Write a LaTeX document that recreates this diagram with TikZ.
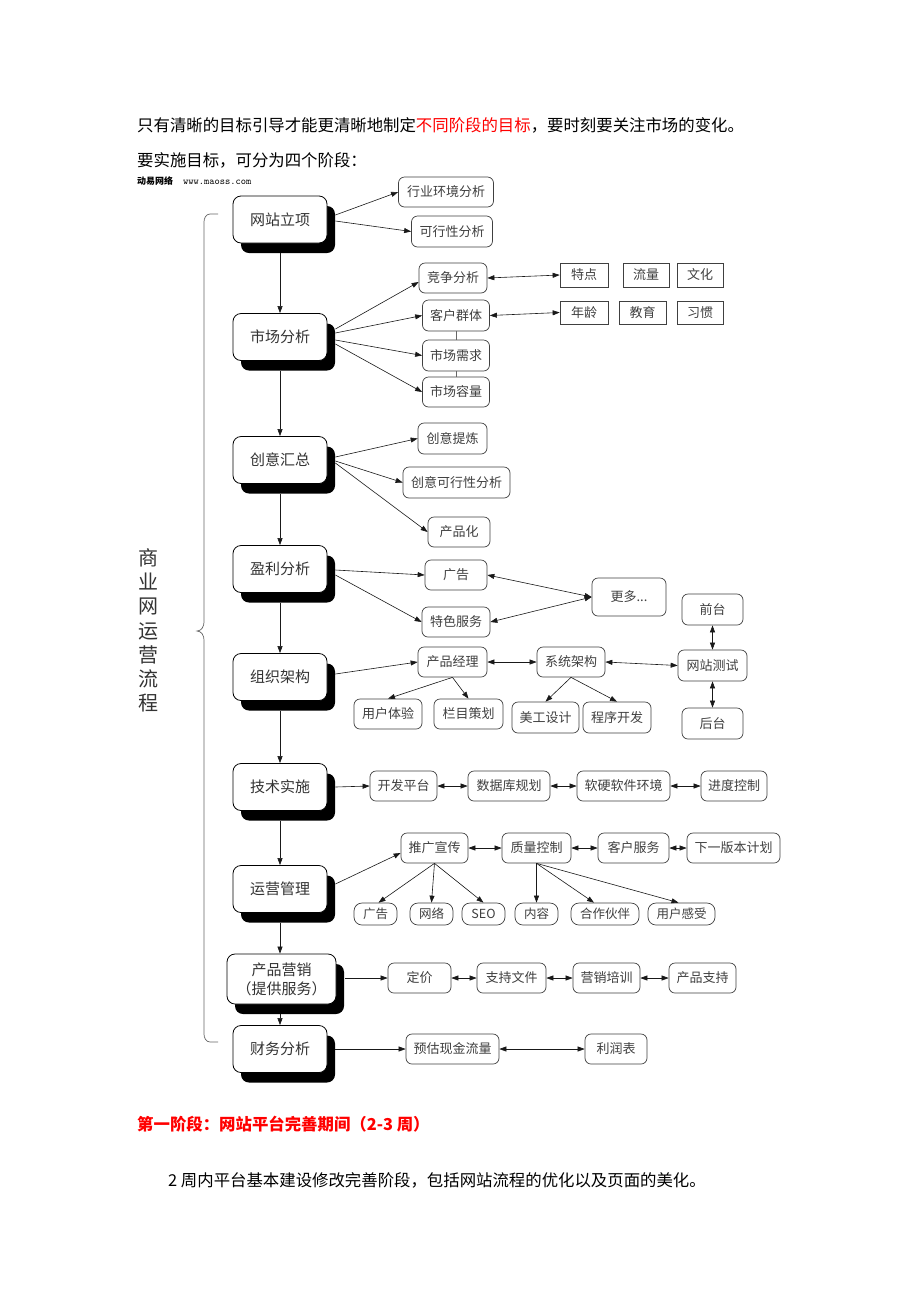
\documentclass[tikz,border=0pt]{standalone}
\usepackage{fontspec}
\setmainfont{Noto Sans CJK SC}
\usetikzlibrary{arrows.meta,shadows,calc}
\begin{document}
\begin{tikzpicture}[x=1pt,y=-1pt,
  mainbox/.style={draw=black, line width=0.8pt, rounded corners=8pt, fill=white, minimum width=94pt, minimum height=47pt, inner sep=0pt, text=black!80, font=\fontsize{15}{18}\selectfont, drop shadow={shadow xshift=8pt, shadow yshift=-10pt, fill=black, opacity=1}},
  sub/.style={draw=black!75, line width=0.7pt, rounded corners=6pt, fill=white, inner sep=0pt, minimum height=30pt, text=black!75, font=\fontsize{13}{15}\selectfont},
  sq/.style={draw=black!75, line width=0.7pt, inner sep=0pt, fill=white, text=black!75, font=\fontsize{13}{15}\selectfont, minimum width=47pt, minimum height=24pt},
  small/.style={sub, rounded corners=8pt, minimum height=22pt, font=\fontsize{12.5}{14}\selectfont},
  arr/.style={-{Triangle[length=7pt,width=5pt]}, line width=0.6pt, draw=black!90},
  darr/.style={{Triangle[length=7pt,width=5pt]}-{Triangle[length=7pt,width=5pt]}, line width=0.6pt, draw=black!90},
  plain/.style={line width=0.6pt, draw=black!60},
  bracestyle/.style={line width=0.7pt, draw=black!60},
  bodytext/.style={anchor=west, inner sep=0pt, font=\fontsize{16.4}{20}\selectfont}
]
\fill[white] (0,0) rectangle (920,1302);
\useasboundingbox (0,0) rectangle (920,1302);

% top text
\node[bodytext] (t1) at (137,125) {只有清晰的目标引导才能更清晰地制定{\color{red}不同阶段的目标}，要时刻要关注市场的变化。};
\node[bodytext] (t2) at (137,160) {要实施目标，可分为四个阶段：};
\node[anchor=west, inner sep=0pt] (wm) at (137,181) {{\fontsize{9}{10}\selectfont\bfseries 动易网络}\hspace{10pt}{\ttfamily\fontsize{10}{11}\selectfont www.maoss.com}};

% main column
\node[mainbox] (m1) at (280,219.5) {网站立项};
\node[mainbox] (m2) at (280,337) {市场分析};
\node[mainbox] (m3) at (280,460) {创意汇总};
\node[mainbox] (m4) at (280,569) {盈利分析};
\node[mainbox] (m5) at (280,677) {组织架构};
\node[mainbox] (m6) at (280,787) {技术实施};
\node[mainbox] (m7) at (280,889) {运营管理};
\node[mainbox, minimum width=109pt, minimum height=50pt, align=center, font=\fontsize{15}{19}\selectfont] (m8) at (281.5,979) {产品营销\\（提供服务）};
\node[mainbox] (m9) at (280,1049) {财务分析};

% brace and vertical title
\draw[bracestyle] (218,214) -- (210,214) to[out=180,in=90] (204,222) -- (204,622) to[out=270,in=0] (197,631) to[out=0,in=90] (204,640) -- (204,1034) to[out=270,in=180] (210,1042) -- (218,1042);
\node[align=center, inner sep=0pt, text=black!80, font=\fontsize{20}{24.2}\selectfont] (title) at (148,630.5) {商\\业\\网\\运\\营\\流\\程};

% level 1
\node[sub, minimum width=95pt] (a1) at (446,192) {行业环境分析};
\node[sub, minimum width=81pt, minimum height=31pt] (a2) at (452,231.5) {可行性分析};

% level 2
\node[sub, minimum width=68pt] (b1) at (453,278) {竞争分析};
\node[sub, minimum width=67pt, minimum height=31pt] (b2) at (456,315.5) {客户群体};
\node[sub, minimum width=67pt, minimum height=31pt] (b3) at (456,355.5) {市场需求};
\node[sub, minimum width=67pt] (b4) at (456,392) {市场容量};
\node[sq, minimum width=48pt] (r1) at (584,275) {特点};
\node[sq, minimum width=46pt] (r2) at (646,275) {流量};
\node[sq, minimum width=46pt] (r3) at (700,275) {文化};
\node[sq, minimum width=48pt, minimum height=23pt] (r4) at (584,312.5) {年龄};
\node[sq, minimum width=47pt, minimum height=23pt] (r5) at (642.5,312.5) {教育};
\node[sq, minimum width=46pt, minimum height=23pt] (r6) at (700,312.5) {习惯};

% level 3
\node[sub, minimum width=69pt, minimum height=31pt] (c1) at (452.5,438.5) {创意提炼};
\node[sub, minimum width=107pt, minimum height=31pt] (c2) at (456.5,482.5) {创意可行性分析};
\node[sub, minimum width=62pt] (c3) at (459,532) {产品化};

% level 4
\node[sub, minimum width=62pt] (d1) at (456,575) {广告};
\node[sub, minimum width=68pt] (d2) at (456,622) {特色服务};
\node[sub, minimum width=74pt, minimum height=38pt] (d3) at (629,597) {更多...};

% level 5
\node[sub, minimum width=61pt, minimum height=31pt] (e1) at (712.5,609.5) {前台};
\node[sub, minimum width=69pt] (e2) at (452.5,662) {产品经理};
\node[sub, minimum width=68pt] (e3) at (571,662) {系统架构};
\node[sub, minimum width=69pt, minimum height=31pt] (e4) at (712.5,665.5) {网站测试};
\node[sub, minimum width=68pt] (e5) at (388,714) {用户体验};
\node[sub, minimum width=69pt] (e6) at (468.5,714) {栏目策划};
\node[sub, minimum width=67pt, minimum height=31pt] (e7) at (545.5,717.5) {美工设计};
\node[sub, minimum width=68pt, minimum height=31pt] (e8) at (617,717.5) {程序开发};
\node[sub, minimum width=61pt, minimum height=31pt] (e9) at (712.5,723.5) {后台};

% level 6
\node[sub, minimum width=67pt] (f1) at (403.5,786) {开发平台};
\node[sub, minimum width=82pt] (f2) at (509,786) {数据库规划};
\node[sub, minimum width=93pt] (f3) at (623.5,786) {软硬软件环境};
\node[sub, minimum width=66pt] (f4) at (734,786) {进度控制};

% level 7
\node[sub, minimum width=67pt] (g1) at (434.5,848) {推广宣传};
\node[sub, minimum width=69pt] (g2) at (536.5,848) {质量控制};
\node[sub, minimum width=71pt] (g3) at (633.5,848) {客户服务};
\node[sub, minimum width=93pt] (g4) at (733.5,848) {下一版本计划};
\node[small, minimum width=43pt] (h1) at (375.5,914) {广告};
\node[small, minimum width=43pt] (h2) at (431.5,914) {网络};
\node[small, minimum width=43pt] (h3) at (483.5,914) {SEO};
\node[small, minimum width=43pt] (h4) at (536.5,914) {内容};
\node[small, minimum width=68pt] (h5) at (605,914) {合作伙伴};
\node[small, minimum width=67pt] (h6) at (681.5,914) {用户感受};

% level 8
\node[sub, minimum width=63pt] (i1) at (419.5,978) {定价};
\node[sub, minimum width=69pt] (i2) at (511.5,978) {支持文件};
\node[sub, minimum width=67pt] (i3) at (606.5,978) {营销培训};
\node[sub, minimum width=67pt] (i4) at (702.5,978) {产品支持};

% level 9
\node[sub, minimum width=93pt] (j1) at (452.5,1049) {预估现金流量};
\node[sub, minimum width=62pt] (j2) at (616,1049) {利润表};

% vertical main arrows
\draw[arr] ([yshift=-10pt]m1.south) -- (m2.north);
\draw[arr] ([yshift=-10pt]m2.south) -- (m3.north);
\draw[arr] ([yshift=-10pt]m3.south) -- (m4.north);
\draw[arr] ([yshift=-10pt]m4.south) -- (m5.north);
\draw[arr] ([yshift=-10pt]m5.south) -- (m6.north);
\draw[arr] ([yshift=-10pt]m6.south) -- (m7.north);
\draw[arr] ([yshift=-10pt]m7.south) -- (m7.south |- m8.north);
\draw[arr] ([xshift=-1.5pt,yshift=-10pt]m8.south) -- (m9.north);

% 1
\draw[arr] ([xshift=8pt,yshift=4.5pt]m1.east) -- (a1.west);
\draw[arr] ([xshift=8pt,yshift=-1.5pt]m1.east) -- (a2.west);
% 2
\draw[arr] ([xshift=8pt,yshift=8pt]m2.east) -- ([yshift=-4pt]b1.west);
\draw[arr] ([xshift=8pt,yshift=4pt]m2.east) -- (b2.west);
\draw[arr] ([xshift=8pt,yshift=-3pt]m2.east) -- (b3.west);
\draw[arr] ([xshift=8pt,yshift=-7pt]m2.east) -- (b4.west);
\draw[plain] (b2.south) -- (b3.north);
\draw[plain] (b3.south) -- (b4.north);
\draw[darr] (b1.east) -- (r1.west);
\draw[darr] (b2.east) -- (r4.west);
% 3
\draw[arr] ([xshift=8pt,yshift=3pt]m3.east) -- (c1.west);
\draw[arr] ([xshift=8pt,yshift=-1pt]m3.east) -- (c2.west);
\draw[arr] ([xshift=8pt,yshift=-3pt]m3.east) -- (c3.west);
% 4
\draw[arr] ([xshift=8pt,yshift=-1pt]m4.east) -- (d1.west);
\draw[arr] ([xshift=8pt,yshift=-6pt]m4.east) -- (d2.west);
\draw[darr] (d1.east) -- (d3.west);
\draw[darr] (d2.east) -- (d3.west);
% 5
\draw[arr] ([xshift=8pt,yshift=3pt]m5.east) -- (e2.west);
\draw[darr] (e2.east) -- (e3.west);
\draw[darr] (e3.east) -- (e4.west);
\draw[darr] (e4.north) -- (e1.south);
\draw[darr] (e4.south) -- (e9.north);
\draw[arr] (e2.south) -- (e5.north);
\draw[arr] (e2.south) -- (e6.north);
\draw[arr] (e3.south) -- (e7.north);
\draw[arr] (e3.south) -- (e8.north);
% 6
\draw[arr] ([xshift=8pt]m6.east) -- (f1.west);
\draw[darr] (f1.east) -- (f2.west);
\draw[darr] (f2.east) -- (f3.west);
\draw[darr] (f3.east) -- (f4.west);
% 7
\draw[arr] ([xshift=8pt,yshift=5pt]m7.east) -- ([yshift=-5pt]g1.west);
\draw[darr] (g1.east) -- (g2.west);
\draw[darr] (g2.east) -- (g3.west);
\draw[darr] (g3.east) -- (g4.west);
\draw[arr] (g1.south) -- ([xshift=3pt]h1.north);
\draw[arr] (g1.south) -- (h2.north);
\draw[arr] (g1.south) -- (h3.north);
\draw[arr] (g2.south) -- (h4.north);
\draw[arr] (g2.south) -- ([xshift=-11pt]h5.north);
\draw[arr] (g2.south) -- ([xshift=-3pt]h6.north);
% 8
\draw[arr] ([xshift=9pt,yshift=1pt]m8.east) -- (i1.west);
\draw[darr] (i1.east) -- (i2.west);
\draw[darr] (i2.east) -- (i3.west);
\draw[darr] (i3.east) -- (i4.west);
% 9
\draw[arr] ([xshift=8pt]m9.east) -- (j1.west);
\draw[darr] (j1.east) -- (j2.west);

% bottom text
\node[bodytext, text=red, font=\fontsize{16.4}{20}\selectfont\bfseries] (t3) at (137,1124) {第一阶段：网站平台完善期间（2-3 周）};
\node[bodytext] (t4) at (168,1180) {2 周内平台基本建设修改完善阶段，包括网站流程的优化以及页面的美化。};
\end{tikzpicture}
\end{document}
